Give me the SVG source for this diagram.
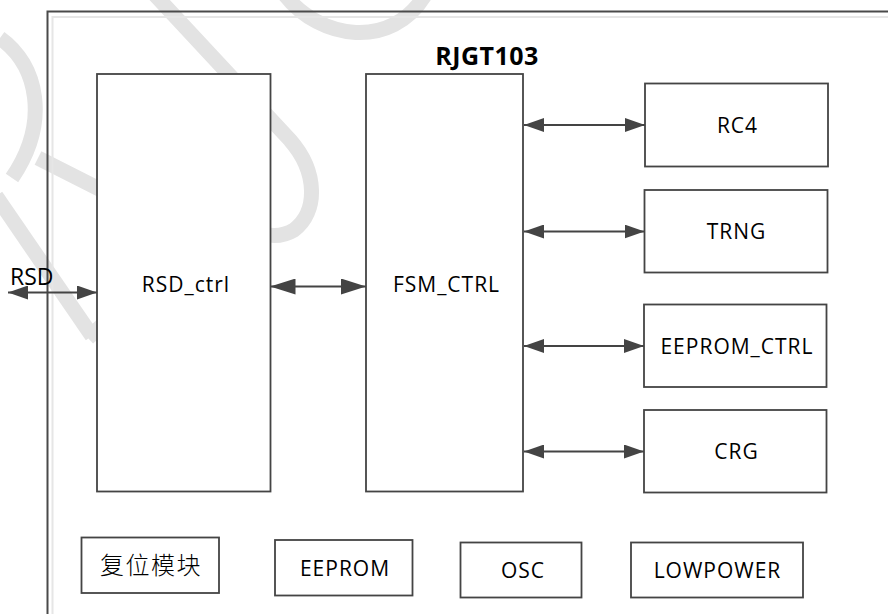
<svg xmlns="http://www.w3.org/2000/svg" width="888" height="614" viewBox="0 0 888 614">
<style>
.box{fill:#fff;stroke:#444;stroke-width:1.8}
.lbl{font-family:"Open Sans","Noto Sans",sans-serif;font-size:21px;fill:#000;text-anchor:middle;letter-spacing:1px}
.cjk{font-family:"Noto Sans CJK SC",sans-serif;font-size:24px;fill:#000;text-anchor:middle;letter-spacing:1.5px;font-weight:300}
.wm{fill:none;stroke:#e3e3e3;stroke-width:15;stroke-linecap:butt}
.conn line{stroke:#444;stroke-width:2}
</style>
<defs>
<marker id="ah" markerUnits="userSpaceOnUse" markerWidth="20" markerHeight="14" refX="20" refY="7" orient="auto-start-reverse">
<path d="M0,0 L20,7 L0,14 z" fill="#444"/>
</marker>
<marker id="ahb" markerUnits="userSpaceOnUse" markerWidth="25" markerHeight="16" refX="25" refY="8" orient="auto-start-reverse">
<path d="M0,0 L25,8 L0,16 z" fill="#444"/>
</marker>
</defs>
<rect width="888" height="614" fill="#fff"/>
<g id="watermark">
<path class="wm" d="M0,38 C38,65 50,122 12,178"/>
<path class="wm" d="M-4,196 L92,336"/>
<path class="wm" d="M88,338 L134,296"/>
<path class="wm" d="M38,158 L200,240"/>
<path class="wm" d="M155,-5 L290,140 C318,172 318,212 294,230 C274,242 252,232 240,222"/>
<path class="wm" d="M285,-5 C320,40 392,50 425,-5"/>
</g>
<g id="frame">
<path d="M52.5,614 V17 H888" fill="none" stroke="#e6e6e6" stroke-width="2"/>
<path d="M47.5,614 V11.5 H888" fill="none" stroke="#4a4a4a" stroke-width="2"/>
<text x="487" y="64.5" style="font-family:'Open Sans','Noto Sans',sans-serif;font-size:25px;font-weight:bold;text-anchor:middle;letter-spacing:0.5px">RJGT103</text>
</g>
<g id="rsd_ctrl">
<rect class="box" x="97" y="74" width="173.5" height="417.5"/>
<text class="lbl" x="186" y="292">RSD_ctrl</text>
</g>
<g id="fsm_ctrl">
<rect class="box" x="366" y="74" width="157" height="417.5"/>
<text class="lbl" x="446.5" y="292">FSM_CTRL</text>
</g>
<g id="rc4">
<rect class="box" x="645" y="83.5" width="183" height="83"/>
<text class="lbl" x="737.5" y="133">RC4</text>
</g>
<g id="trng">
<rect class="box" x="644.5" y="190" width="183" height="82.5"/>
<text class="lbl" x="736.5" y="239">TRNG</text>
</g>
<g id="eeprom_ctrl">
<rect class="box" x="644" y="304.5" width="182.5" height="82.5"/>
<text class="lbl" x="737" y="354">EEPROM_CTRL</text>
</g>
<g id="crg">
<rect class="box" x="644" y="410" width="182.5" height="82.5"/>
<text class="lbl" x="736.5" y="459">CRG</text>
</g>
<g id="reset">
<rect class="box" x="81.5" y="537.5" width="137.5" height="55.5"/>
<text class="cjk" x="151" y="574">复位模块</text>
</g>
<g id="eeprom">
<rect class="box" x="275" y="540" width="137.5" height="55.5"/>
<text class="lbl" x="345" y="576">EEPROM</text>
</g>
<g id="osc">
<rect class="box" x="460.5" y="542.5" width="121" height="55"/>
<text class="lbl" x="523" y="578">OSC</text>
</g>
<g id="lowpower">
<rect class="box" x="631" y="542.5" width="172" height="55"/>
<text class="lbl" x="717.5" y="578">LOWPOWER</text>
</g>
<g id="rsd">
<text x="10" y="285" style="font-family:'Open Sans','Noto Sans',sans-serif;font-size:23px;fill:#000">RSD</text>
</g>
<g id="connectors" class="conn">
<line x1="8" y1="292.5" x2="97" y2="292.5" marker-start="url(#ah)" marker-end="url(#ah)"/>
<line x1="270.5" y1="286.5" x2="366" y2="286.5" marker-start="url(#ahb)" marker-end="url(#ahb)"/>
<line x1="524" y1="125" x2="645" y2="125" marker-start="url(#ah)" marker-end="url(#ah)"/>
<line x1="524" y1="231.5" x2="644.5" y2="231.5" marker-start="url(#ah)" marker-end="url(#ah)"/>
<line x1="524" y1="346" x2="644" y2="346" marker-start="url(#ah)" marker-end="url(#ah)"/>
<line x1="524" y1="451.5" x2="644" y2="451.5" marker-start="url(#ah)" marker-end="url(#ah)"/>
</g>
</svg>
